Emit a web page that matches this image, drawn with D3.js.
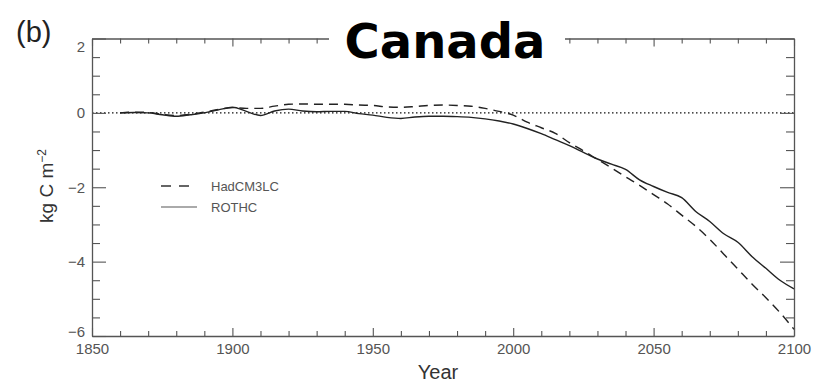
<!DOCTYPE html>
<html>
<head>
<meta charset="utf-8">
<script src="https://cdn.jsdelivr.net/npm/d3@7"></script>
<style>
  body { margin: 0; background: #fff; }
  svg { display: block; }
</style>
</head>
<body>
<div id="chart"></div>
<script>
const years = d3.range(1860, 2101, 5);
const hadcm3lc = [
  0.00, 0.02, 0.01, -0.04, -0.07, -0.04, 0.02, 0.09, 0.14, 0.12,
  0.12, 0.18, 0.23, 0.24, 0.23, 0.23, 0.23, 0.21, 0.20, 0.16,
  0.15, 0.17, 0.20, 0.21, 0.20, 0.18, 0.12, 0.04, -0.06, -0.25,
  -0.40, -0.55, -0.80, -1.02, -1.25, -1.48, -1.72, -1.95, -2.20, -2.45,
  -2.75, -3.05, -3.40, -3.80, -4.20, -4.60, -4.97, -5.37, -5.82
];
const rothc = [
  0.00, 0.01, 0.00, -0.05, -0.09, -0.05, 0.00, 0.08, 0.15, 0.04,
  -0.07, 0.05, 0.10, 0.05, 0.03, 0.04, 0.04, -0.02, -0.06, -0.12,
  -0.15, -0.11, -0.09, -0.09, -0.10, -0.12, -0.16, -0.22, -0.30, -0.42,
  -0.56, -0.72, -0.88, -1.06, -1.24, -1.38, -1.52, -1.80, -1.98, -2.14,
  -2.28, -2.65, -2.92, -3.25, -3.48, -3.86, -4.18, -4.50, -4.73
];
const xMajor = [1850, 1900, 1950, 2000, 2050, 2100];
const yMajor = [-6, -4, -2, 0, 2];
const seriesNames = ["HadCM3LC", "ROTHC"];

const width = 822, height = 382;
const margin = { top: 38.5, right: 28, bottom: 46, left: 92 };
const axisColor = "#555";
const labelFont = "'Liberation Sans', Arial, sans-serif";

const x = d3.scaleLinear().domain([1850, 2100]).range([margin.left, width - margin.right]);
const y = d3.scaleLinear().domain([-6, 2]).range([height - margin.bottom, margin.top]);

const svg = d3.select("#chart").append("svg")
  .attr("width", width)
  .attr("height", height)
  .style("font-family", labelFont);

// zero reference line
svg.append("line")
  .attr("x1", x(1850)).attr("x2", x(2100))
  .attr("y1", y(0)).attr("y2", y(0))
  .attr("stroke", "#111")
  .attr("stroke-width", 1.3)
  .attr("stroke-dasharray", "1.5,2.5");

// series
const line = d3.line()
  .x((d, i) => x(years[i]))
  .y(d => y(d))
  .curve(d3.curveMonotoneX);

svg.append("path")
  .datum(rothc)
  .attr("fill", "none")
  .attr("stroke", "#222")
  .attr("stroke-width", 1.4)
  .attr("d", line);

svg.append("path")
  .datum(hadcm3lc)
  .attr("fill", "none")
  .attr("stroke", "#222")
  .attr("stroke-width", 1.4)
  .attr("stroke-dasharray", "9,6")
  .attr("d", line);

// frame with inward ticks
const minorX = d3.range(1850, 2101, 10).filter(v => !xMajor.includes(v));
const minorY = d3.range(-6, 2.01, 0.5).filter(v => !yMajor.includes(v));

const styleAxis = g => {
  g.select(".domain").attr("stroke", axisColor).attr("stroke-width", 1.3);
  g.selectAll(".tick line").attr("stroke", axisColor).attr("stroke-width", 1.1);
  g.selectAll(".tick text").attr("fill", "#555").style("font-size", "15px").style("font-family", labelFont);
};

svg.append("g")
  .attr("transform", `translate(0,${y(-6)})`)
  .call(d3.axisBottom(x).tickValues(xMajor).tickSize(-8).tickSizeOuter(0).tickPadding(7).tickFormat(d3.format("d")))
  .call(styleAxis);
svg.append("g")
  .attr("transform", `translate(0,${y(-6)})`)
  .call(d3.axisBottom(x).tickValues(minorX).tickSize(-5).tickFormat(""))
  .call(styleAxis)
  .call(g => g.select(".domain").remove());

svg.append("g")
  .attr("transform", `translate(0,${y(2)})`)
  .call(d3.axisTop(x).tickValues(xMajor).tickSize(-8).tickSizeOuter(0).tickFormat(""))
  .call(styleAxis);
svg.append("g")
  .attr("transform", `translate(0,${y(2)})`)
  .call(d3.axisTop(x).tickValues(minorX).tickSize(-5).tickFormat(""))
  .call(styleAxis)
  .call(g => g.select(".domain").remove());

svg.append("g")
  .attr("transform", `translate(${x(1850)},0)`)
  .call(d3.axisLeft(y).tickValues(yMajor).tickSize(-14).tickSizeOuter(0).tickPadding(7))
  .call(styleAxis)
  .call(g => g.selectAll(".tick text")
    .attr("dy", d => d === 2 ? "0.85em" : d === -6 ? "0.05em" : "0.32em"));
svg.append("g")
  .attr("transform", `translate(${x(1850)},0)`)
  .call(d3.axisLeft(y).tickValues(minorY).tickSize(-8).tickFormat(""))
  .call(styleAxis)
  .call(g => g.select(".domain").remove());

svg.append("g")
  .attr("transform", `translate(${x(2100)},0)`)
  .call(d3.axisRight(y).tickValues(yMajor).tickSize(-14).tickSizeOuter(0).tickFormat(""))
  .call(styleAxis);
svg.append("g")
  .attr("transform", `translate(${x(2100)},0)`)
  .call(d3.axisRight(y).tickValues(minorY).tickSize(-8).tickFormat(""))
  .call(styleAxis)
  .call(g => g.select(".domain").remove());

// axis titles
svg.append("text")
  .attr("x", 438)
  .attr("y", 379)
  .attr("text-anchor", "middle")
  .attr("fill", "#333")
  .style("font-size", "20px")
  .text("Year");

const ylab = svg.append("text")
  .attr("transform", "translate(53,186) rotate(-90)")
  .attr("text-anchor", "middle")
  .attr("fill", "#333")
  .style("font-size", "19px");
ylab.append("tspan").text("kg C m");
ylab.append("tspan").attr("dy", "-0.55em").style("font-size", "12px").text("−2");

// legend
const legend = svg.append("g").attr("transform", "translate(161,186)");
legend.append("line")
  .attr("x1", 0).attr("x2", 30).attr("y1", 0).attr("y2", 0)
  .attr("stroke", "#333").attr("stroke-width", 1.3)
  .attr("stroke-dasharray", "10,8");
legend.append("line")
  .attr("x1", 0).attr("x2", 36).attr("y1", 21).attr("y2", 21)
  .attr("stroke", "#aaa").attr("stroke-width", 2);
legend.selectAll("text.lg")
  .data(seriesNames)
  .join("text")
  .attr("class", "lg")
  .attr("x", 50)
  .attr("y", (d, i) => i * 21)
  .attr("dy", "0.35em")
  .attr("fill", "#555")
  .style("font-size", "13px")
  .text(d => d);

// panel label and title (title box hides part of the top frame)
svg.append("text")
  .attr("x", 16)
  .attr("y", 42)
  .attr("fill", "#222")
  .style("font-size", "29px")
  .text("(b)");

svg.append("rect")
  .attr("x", 329).attr("y", 18)
  .attr("width", 236).attr("height", 42)
  .attr("fill", "#fff");

svg.append("text")
  .attr("x", 445)
  .attr("y", 58)
  .attr("text-anchor", "middle")
  .attr("fill", "#000")
  .style("font-family", "'DejaVu Sans', Verdana, sans-serif")
  .style("font-weight", "bold")
  .style("font-size", "48px")
  .text("Canada");
</script>
</body>
</html>
